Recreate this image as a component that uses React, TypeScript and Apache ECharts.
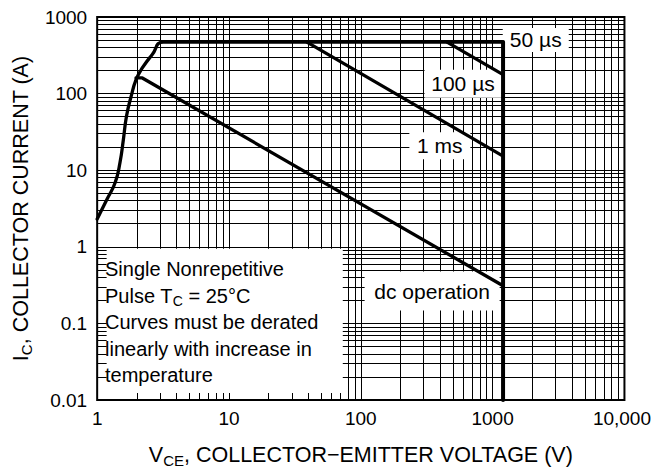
import React, { useEffect, useRef } from "react";
import * as echarts from "echarts";

// Tick labels
const xTickLabels = ["1", "10", "100", "1000", "10,000"];
const yTickLabels = ["0.01", "0.1", "1", "10", "100", "1000"];

// Grid line values (mantissas and decades of the log grid)
const mantissas = [1, 2, 3, 4, 5, 6, 7, 8, 9];
const xDecades = [1, 10, 100, 1000];
const yDecades = [0.01, 0.1, 1, 10, 100];

// Safe operating area curves (VCE in V, IC in A)
const envelopeV = [1, 1.19, 1.37, 1.49, 1.58, 1.67, 1.81, 1.97, 2.2, 2.61, 3.18, 1200];
const envelopeI = [2.3, 4.2, 6.9, 12.6, 25, 51, 92, 151, 216, 321, 470, 470];
const limitV = [1200, 1200];
const limitI = [470, 0.01];
const us100V = [451, 1200];
const us100I = [470, 177];
const ms1V = [39, 1200];
const ms1I = [470, 15.3];
const dcV = [1.97, 2.2, 1200];
const dcI = [160, 160, 0.31];

// Curve labels: [text, V, I]
const curveLabels: [string, number, number][] = [
  ["50 µs", 2124, 502],
  ["100 µs", 596, 134.9],
  ["1 ms", 397.8, 20.8],
  ["dc operation", 347.6, 0.264],
];
const labelBoxSizes: [number, number][] = [
  [66, 24],
  [77, 28],
  [61, 27],
  [135, 39],
];

// Note box extent in data coords
const noteBoxV = [1.18, 73];
const noteBoxI = [0.0123, 0.94];

const FONT = '"Liberation Sans", Arial, Helvetica, sans-serif';

const zip = (a: number[], b: number[]) => a.map((v, i) => [v, b[i]]);

export default function App() {
  const ref = useRef<HTMLDivElement>(null);
  useEffect(() => {
    if (!ref.current) return;
    const chart = echarts.init(ref.current, undefined, { renderer: "svg" });

    const xGrid: number[] = [];
    xDecades.forEach((d) => mantissas.forEach((m) => xGrid.push(d * m)));
    xGrid.push(10000);
    const yGrid: number[] = [];
    yDecades.forEach((d) => mantissas.forEach((m) => yGrid.push(+(d * m).toPrecision(6))));
    yGrid.push(1000);

    const curveStyle = (w: number) => ({
      type: "line" as const,
      showSymbol: false,
      symbol: "none",
      z: 10,
      lineStyle: { color: "#000", width: w, cap: "round", join: "round" },
      silent: true,
    });

    const nameRich = {
      n: { fontSize: 21.5, fontFamily: FONT, color: "#000", lineHeight: 26 },
      sub: { fontSize: 15, fontFamily: FONT, color: "#000", lineHeight: 15, padding: [11, 0, 0, 0] },
    };

    const option: any = {
      animation: false,
      backgroundColor: "#fff",
      grid: {
        left: 87,
        top: 17,
        right: 20,
        bottom: 71,
        show: true,
        borderColor: "#000",
        borderWidth: 2,
        backgroundColor: "transparent",
      },
      xAxis: {
        type: "log",
        logBase: 10,
        min: 1,
        max: 10000,
        splitNumber: 4,
        name: "V{sub|CE}{n|, COLLECTOR−EMITTER VOLTAGE (V)}",
        nameLocation: "middle",
        nameGap: 42,
        nameTextStyle: {
          color: "#000",
          fontFamily: FONT,
          fontSize: 21.5,
          lineHeight: 26,
          rich: nameRich,
        },
        axisLine: { show: false },
        axisTick: { show: false },
        splitLine: { show: false },
        axisLabel: {
          color: "#000",
          fontFamily: FONT,
          fontSize: 19,
          margin: 9,
          formatter: (v: number) => {
            const i = Math.round(Math.log10(v));
            const t = xTickLabels[i] ?? "";
            return i === 4 ? "{r|" + t + "}" : t;
          },
          rich: {
            r: { fontSize: 19, fontFamily: FONT, color: "#000", padding: [0, 5, 0, 0] },
          },
        },
      },
      yAxis: {
        type: "log",
        logBase: 10,
        min: 0.01,
        max: 1000,
        splitNumber: 5,
        name: "I{sub|C}{n|, COLLECTOR CURRENT (A)}",
        nameLocation: "middle",
        nameGap: 45,
        nameTextStyle: {
          color: "#000",
          fontFamily: FONT,
          fontSize: 21.5,
          lineHeight: 26,
          rich: nameRich,
        },
        axisLine: { show: false },
        axisTick: { show: false },
        splitLine: { show: false },
        axisLabel: {
          color: "#000",
          fontFamily: FONT,
          fontSize: 19,
          margin: 10,
          formatter: (v: number) => yTickLabels[Math.round(Math.log10(v)) + 2] ?? "",
        },
      },
      series: [
        {
          type: "line",
          name: "grid",
          data: [[1, 1]],
          symbol: "none",
          lineStyle: { width: 0, opacity: 0 },
          z: 1,
          silent: true,
          markLine: {
            silent: true,
            z: 1,
            symbol: ["none", "none"],
            label: { show: false },
            lineStyle: { color: "#000", width: 1, type: "solid", opacity: 1 },
            emphasis: { disabled: true },
            data: [
              ...xGrid.map((v) => ({ xAxis: v })),
              ...yGrid.map((v) => ({ yAxis: v })),
            ],
          },
        },
        {
          type: "line",
          name: "boxes",
          data: [[1, 1]],
          symbol: "none",
          lineStyle: { width: 0, opacity: 0 },
          z: 2,
          silent: true,
          markArea: {
            silent: true,
            z: 3,
            itemStyle: { color: "#fff", opacity: 1 },
            emphasis: { disabled: true },
            data: [
              [
                { coord: [noteBoxV[0], noteBoxI[0]] },
                { coord: [noteBoxV[1], noteBoxI[1]] },
              ],
            ],
          },
          markPoint: {
            silent: true,
            z: 4,
            symbol: "rect",
            itemStyle: { color: "#fff" },
            label: {
              show: true,
              position: "inside",
              color: "#000",
              fontFamily: FONT,
              fontSize: 21,
            },
            data: curveLabels.map(([t, v, i], k) => ({
              coord: [v, i],
              symbolSize: labelBoxSizes[k],
              value: t,
              label: { formatter: t },
            })),
          },
        },
        { ...curveStyle(3.3), name: "50 µs", data: zip(envelopeV, envelopeI), smooth: 0.5 },
        { ...curveStyle(4), name: "limit", data: zip(limitV, limitI) },
        { ...curveStyle(3.3), name: "100 µs", data: zip(us100V, us100I) },
        { ...curveStyle(3.3), name: "1 ms", data: zip(ms1V, ms1I) },
        { ...curveStyle(3.3), name: "dc", data: zip(dcV, dcI) },
      ],
      graphic: [
        {
          type: "text",
          left: 105,
          top: 256,
          z: 100,
          silent: true,
          style: {
            text:
              "{n|Single Nonrepetitive}\n{n|Pulse T}{sub|C}{n| = 25°C}\n{n|Curves must be derated}\n{n|linearly with increase in}\n{n|temperature}",
            fill: "#000",
            font: "20px " + FONT,
            lineHeight: 26.5,
            rich: {
              n: { fontSize: 20, fontFamily: FONT, fill: "#000", lineHeight: 26.5 } as any,
              sub: { fontSize: 14, fontFamily: FONT, fill: "#000", lineHeight: 14, padding: [11, 0, 0, 0] } as any,
            },
          },
        },
      ],
    };

    chart.setOption(option);
    return () => chart.dispose();
  }, []);

  return (
    <div
      ref={ref}
      style={{ position: "fixed", left: 0, top: 0, width: 654, height: 473, background: "#fff" }}
    />
  );
}
